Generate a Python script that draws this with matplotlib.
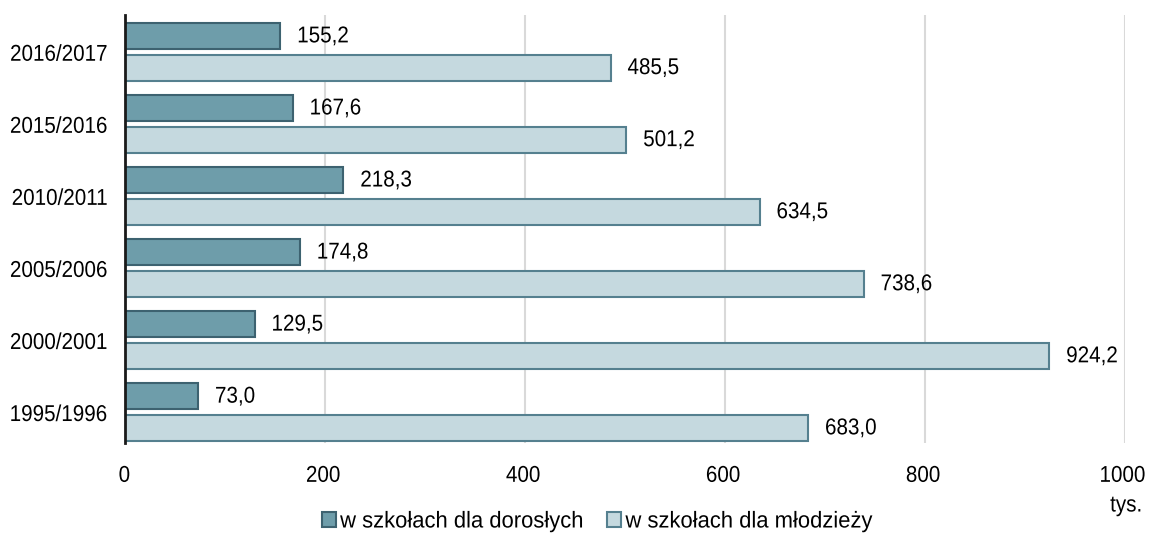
import numpy as np
import matplotlib.pyplot as plt
from matplotlib.patches import Patch
from matplotlib.patheffects import AbstractPathEffect
from matplotlib.transforms import Affine2D

plt.rcParams['font.family'] = ['Liberation Sans', 'DejaVu Sans']

years = ["1995/1996", "2000/2001", "2005/2006", "2010/2011", "2015/2016", "2016/2017"]
adults = [73.0, 129.5, 174.8, 218.3, 167.6, 155.2]
youth = [683.0, 924.2, 738.6, 634.5, 501.2, 485.5]
labels = ["w szkołach dla dorosłych", "w szkołach dla młodzieży"]

dark_fill, dark_edge = "#6e9daa", "#3d6270"
light_fill, light_edge = "#c5d9df", "#55808f"
fs = 16.5


class Narrow(AbstractPathEffect):
    # squeeze glyphs horizontally to mimic a narrow typeface
    def __init__(self, sx=0.9):
        super().__init__()
        self.sx = sx

    def draw_path(self, renderer, gc, tpath, affine, rgbFace=None):
        renderer.draw_path(gc, tpath, Affine2D().scale(self.sx, 1) + affine, rgbFace)


narrow = [Narrow(0.9)]

fig = plt.figure(figsize=(11.49, 5.34), dpi=100)
ax = fig.add_axes([125 / 1149, 91 / 534, 1000 / 1149, 428 / 534])

y = np.arange(len(years))
h = 0.36
ax.barh(y + 0.22, adults, height=h, color=dark_fill, edgecolor=dark_edge, linewidth=1.5, zorder=3)
ax.barh(y - 0.22, youth, height=h, color=light_fill, edgecolor=light_edge, linewidth=1.5, zorder=3)

fmt = lambda v: f"{v:.1f}".replace(".", ",")
for yi, a, b in zip(y, adults, youth):
    ax.text(a + 17, yi + 0.22, fmt(a), va="center", ha="left", fontsize=fs, path_effects=narrow)
    ax.text(b + 17, yi - 0.22, fmt(b), va="center", ha="left", fontsize=fs, path_effects=narrow)

ax.set_xlim(0, 1000)
ax.set_ylim(-0.43, 5.51)
ax.set_xticks([0, 200, 400, 600, 800, 1000])
ax.set_yticks(y)
ax.set_yticklabels(years)
ax.tick_params(axis="both", length=0, labelsize=fs)
ax.tick_params(axis="x", pad=15)
ax.tick_params(axis="y", pad=5)
for t in ax.get_xticklabels() + ax.get_yticklabels():
    t.set_path_effects(narrow)
ax.grid(axis="x", color="#d9d9d9", linewidth=1.5, zorder=0)
for s in ["top", "right", "bottom"]:
    ax.spines[s].set_visible(False)
ax.spines["left"].set_linewidth(2)
ax.spines["left"].set_color("#1a1a1a")
ax.spines["left"].set_zorder(4)

fig.text(1128 / 1149, 1 - 505 / 534, "tys.", ha="center", va="center", fontsize=fs, path_effects=narrow)

handles = [Patch(facecolor=dark_fill, edgecolor=dark_edge, linewidth=1.5),
           Patch(facecolor=light_fill, edgecolor=light_edge, linewidth=1.5)]
leg = fig.legend(handles, labels, loc="center", bbox_to_anchor=(602 / 1149, 1 - 521 / 534), ncol=2,
                 frameon=False, fontsize=fs, handlelength=0.6, handleheight=0.6,
                 handletextpad=0.2, columnspacing=0.6)
for t in leg.get_texts():
    t.set_path_effects([Narrow(0.96)])

fig.savefig("out.png", dpi=100)
